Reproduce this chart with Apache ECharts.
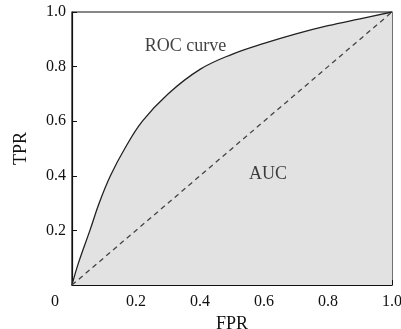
<!DOCTYPE html>
<html>
<head>
<meta charset="utf-8">
<script src="https://cdn.jsdelivr.net/npm/echarts@6/dist/echarts.min.js"></script>
<style>
  html, body { margin: 0; padding: 0; background: #fff; }
  #chart { width: 401px; height: 329px; }
</style>
</head>
<body>
<div id="chart"></div>
<script>
// ROC curve points: [FPR, TPR]
const fpr = [0, 0.02, 0.056, 0.085, 0.12, 0.165, 0.22, 0.3, 0.4, 0.5, 0.6, 0.7, 0.8, 0.9, 1.0];
const tpr = [0, 0.08, 0.2, 0.3, 0.4, 0.5, 0.6, 0.7, 0.79, 0.845, 0.885, 0.92, 0.95, 0.975, 1.0];
const diagonal = [[0, 0], [1, 1]];
const annotations = [
  { name: 'ROC curve', coord: [0.355, 0.875] },
  { name: 'AUC', coord: [0.6125, 0.407] }
];

const serif = '"Liberation Serif", "DejaVu Serif", serif';
const ink = '#111';

const chart = echarts.init(document.getElementById('chart'));

chart.setOption({
  animation: false,
  grid: {
    left: 72, right: 9, top: 12, bottom: 44,
    outerBoundsMode: 'none',
    containLabel: false,
    show: true, borderColor: ink, borderWidth: 1.2
  },
  xAxis: {
    type: 'value', min: 0, max: 1, interval: 0.2,
    name: 'FPR', nameLocation: 'middle', nameGap: 26,
    nameTextStyle: { fontFamily: serif, fontSize: 18, color: ink },
    axisLine: { lineStyle: { color: ink, width: 1.2 } },
    axisTick: { inside: true, length: 5, lineStyle: { color: ink } },
    splitLine: { show: false },
    axisLabel: {
      fontFamily: serif, fontSize: 16, color: ink, margin: 9,
      formatter: v => v === 0 ? '{z|0}' : v.toFixed(1),
      rich: { z: { fontFamily: serif, fontSize: 16, color: ink, padding: [0, 34, 0, 0] } }
    }
  },
  yAxis: {
    type: 'value', min: 0, max: 1, interval: 0.2,
    name: 'TPR', nameLocation: 'middle', nameGap: 42,
    nameTextStyle: { fontFamily: serif, fontSize: 18, color: ink },
    axisLine: { lineStyle: { color: ink, width: 1.2 } },
    axisTick: { inside: true, length: 5, lineStyle: { color: ink } },
    splitLine: { show: false },
    axisLabel: {
      fontFamily: serif, fontSize: 16, color: ink, margin: 6,
      formatter: v => v === 0 ? '' : v.toFixed(1)
    }
  },
  series: [
    {
      type: 'line',
      data: fpr.map((x, i) => [x, tpr[i]]),
      smooth: 0.4,
      symbol: 'none',
      lineStyle: { color: '#222', width: 1.3 },
      areaStyle: { color: '#e2e2e2', opacity: 1 },
      z: 2
    },
    {
      type: 'line',
      data: diagonal,
      symbol: 'none',
      lineStyle: { color: '#444', width: 1.3, type: [5, 4] },
      z: 3
    },
    {
      type: 'scatter',
      data: annotations.map(a => ({ name: a.name, value: a.coord })),
      symbolSize: 1,
      itemStyle: { color: 'rgba(0,0,0,0)' },
      silent: true,
      z: 4,
      label: {
        show: true, position: 'inside',
        fontFamily: serif, fontSize: 18, color: ink,
        formatter: p => p.name
      }
    }
  ]
});
</script>
</body>
</html>
